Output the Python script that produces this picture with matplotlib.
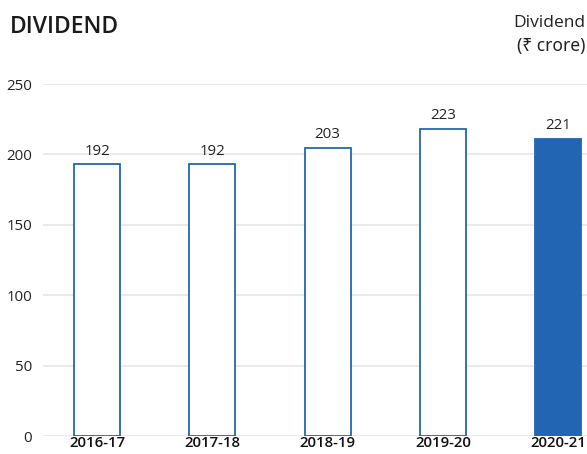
import matplotlib
matplotlib.use("Agg")
import matplotlib.pyplot as plt

categories = ["2016-17", "2017-18", "2018-19", "2019-20", "2020-21"]
bar_heights = [193, 193, 204.5, 218, 211]
value_labels = ["192", "192", "203", "223", "221"]
y_ticks = [0, 50, 100, 150, 200, 250]

plt.rcParams['font.family'] = ['Open Sans', 'DejaVu Sans']

fig = plt.figure(figsize=(5.87, 4.54), dpi=100)
ax = fig.add_axes([43/587, 1 - 436/454, 1 - 43/587, (436 - 84)/454])

x = list(range(len(categories)))
blue = "#2266b3"
for i, h in enumerate(bar_heights):
    last = i == len(categories) - 1
    ax.bar(i, h, width=0.4, facecolor=blue if last else "white",
           edgecolor=blue, linewidth=1.3, zorder=3)
    ax.text(i, h + 4, value_labels[i], ha="center", va="bottom",
            fontsize=10.8, color="#222222", zorder=4)

ax.set_xlim(-0.47, 4.25)
ax.set_ylim(0, 250)
ax.set_yticks(y_ticks)
ax.set_yticklabels([str(t) for t in y_ticks], fontsize=10.8, color="#222222")
ax.set_xticks(x)
ax.set_xticklabels(categories, fontsize=10.8, color="#111111", fontweight="semibold")
ax.tick_params(axis="both", length=0)
ax.tick_params(axis="y", pad=8)
ax.tick_params(axis="x", pad=0)
ax.grid(axis="y", color="#e6e6e6", linewidth=1.2, zorder=0)
for s in ax.spines.values():
    s.set_visible(False)

fig.text(10/587, 1 - 33/454, "DIVIDEND", fontsize=16.5, fontweight="semibold",
         color="#1a1a1a", ha="left", va="baseline")
fig.text(585/587, 1 - 27/454, "Dividend", fontsize=12.5, color="#222222",
         fontweight="medium", ha="right", va="baseline")
fig.text(585/587, 1 - 51/454, "(\u20b9 crore)", fontsize=12.5, color="#222222",
         ha="right", va="baseline", family=["Noto Sans", "DejaVu Sans"])

fig.savefig("out.png", dpi=100)
